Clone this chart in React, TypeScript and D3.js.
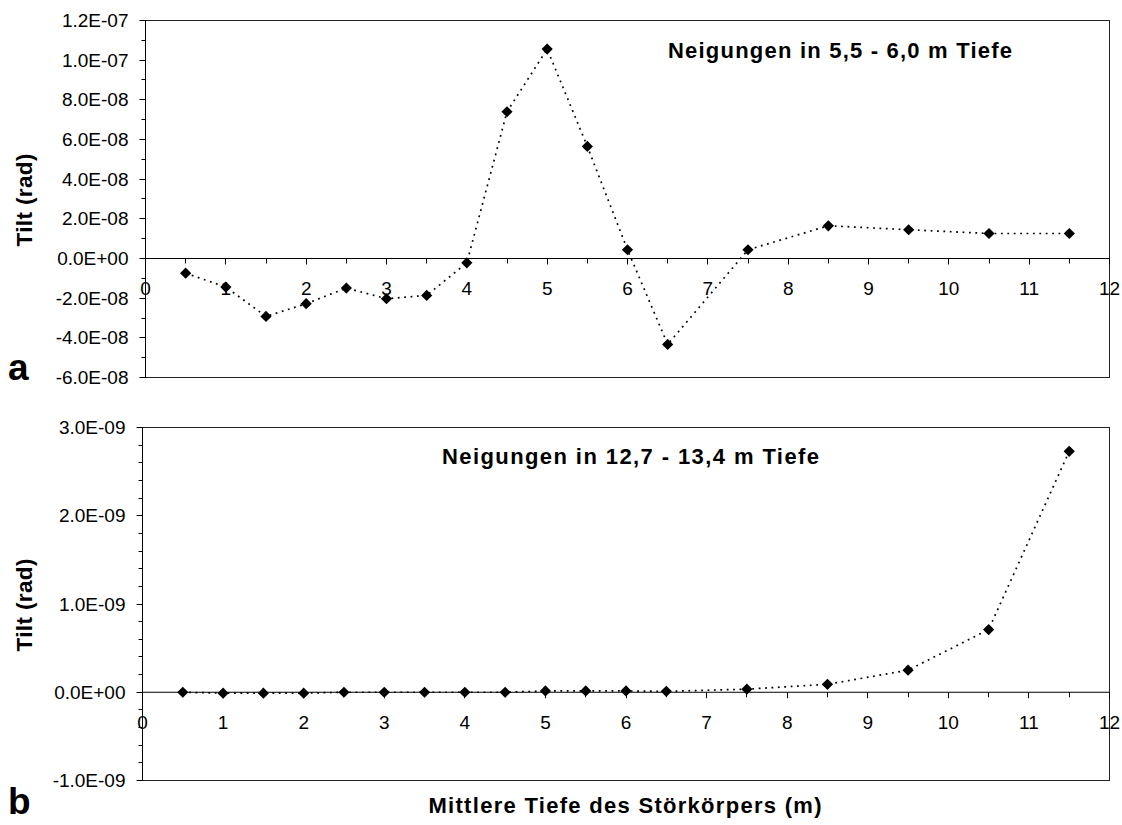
import React from "react";
import * as d3 from "d3";

// Depth of the disturbing body (m)
const depthsA = [0.5, 1, 1.5, 2, 2.5, 3, 3.5, 4, 4.5, 5, 5.5, 6, 6.5, 7.5, 8.5, 9.5, 10.5, 11.5];
const depthsB = [0.5, 1, 1.5, 2, 2.5, 3, 3.5, 4, 4.5, 5, 5.5, 6, 6.5, 7.5, 8.5, 9.5, 10.5, 11.5];

// Tilt at 5.5 - 6.0 m depth (rad)
const tiltA = [
  -7.4e-9, -1.44e-8, -2.92e-8, -2.28e-8, -1.49e-8, -2.03e-8, -1.86e-8, -2.2e-9,
  7.4e-8, 1.056e-7, 5.65e-8, 4.4e-9, -4.33e-8, 4.4e-9, 1.65e-8, 1.45e-8, 1.26e-8, 1.26e-8,
];

// Tilt at 12.7 - 13.4 m depth (rad)
const tiltB = [
  0, -1e-11, -1e-11, -1e-11, 0, 0, 0, 0, 0, 1.5e-11, 1.5e-11, 1.5e-11, 1e-11,
  3.5e-11, 9e-11, 2.5e-10, 7.1e-10, 2.73e-9,
];

const xTickValues = d3.range(0, 12.01, 0.5);
const xLabelValues = d3.range(0, 13, 1);

const titleA = "Neigungen in 5,5 - 6,0 m Tiefe";
const titleB = "Neigungen in 12,7 - 13,4 m Tiefe";
const xTitle = "Mittlere Tiefe des Störkörpers (m)";
const yTitle = "Tilt (rad)";

const FONT = "'Liberation Sans', Arial, Helvetica, sans-serif";

// Excel-style "0.0E+00" number format
function sci(v: number): string {
  if (Math.abs(v) < 1e-20) return "0.0E+00";
  let e = Math.floor(Math.log10(Math.abs(v)));
  let m = +(v / Math.pow(10, e)).toFixed(1);
  if (Math.abs(m) >= 10) {
    e += 1;
    m = +(v / Math.pow(10, e)).toFixed(1);
  }
  const es = (e < 0 ? "-" : "+") + String(Math.abs(e)).padStart(2, "0");
  return m.toFixed(1) + "E" + es;
}

function diamond(r: number) {
  return `M0,${-r}L${r},0L0,${r}L${-r},0Z`;
}

type PanelProps = {
  xs: number[];
  ys: number[];
  left: number;
  right: number;
  top: number;
  bottom: number;
  yDomain: [number, number];
  majorStep: number;
  minorStep: number;
  title: string;
  titleX: number;
  titleY: number;
  titleLen: number;
  letter: string;
  letterY: number;
};

function Panel(p: PanelProps) {
  const x = d3.scaleLinear().domain([0, 12]).range([p.left, p.right]);
  const y = d3.scaleLinear().domain(p.yDomain).range([p.bottom, p.top]);
  const y0 = y(0);

  const nMinor = Math.round((p.yDomain[1] - p.yDomain[0]) / p.minorStep);
  const minorTicks = d3.range(0, nMinor + 1).map((i) => p.yDomain[0] + i * p.minorStep);
  const ratio = Math.round(p.majorStep / p.minorStep);
  const majorTicks = minorTicks.filter((_, i) => i % ratio === 0);

  const pts = p.xs.map((d, i) => [d, p.ys[i]] as [number, number]);
  const line = d3
    .line<[number, number]>()
    .x((d) => x(d[0]))
    .y((d) => y(d[1]));

  return (
    <g>
      {/* plot frame */}
      <rect
        x={p.left}
        y={p.top}
        width={p.right - p.left}
        height={p.bottom - p.top}
        fill="#fff"
        stroke="#222"
        strokeWidth={1}
      />
      {/* y axis */}
      <line x1={p.left} x2={p.left} y1={p.top} y2={p.bottom} stroke="#000" strokeWidth={1} />
      {minorTicks.map((t, i) => {
        const major = i % ratio === 0;
        const yy = Math.round(y(t) - 0.5) + 0.5;
        return (
          <line
            key={"yt" + i}
            x1={p.left - (major ? 6 : 4)}
            x2={p.left}
            y1={yy}
            y2={yy}
            stroke="#000"
            strokeWidth={1}
          />
        );
      })}
      {majorTicks.map((t, i) => (
        <text
          key={"yl" + i}
          x={p.left - 17}
          y={y(t)}
          dy="0.35em"
          textAnchor="end"
          fontFamily={FONT}
          fontSize={19}
          fill="#000"
        >
          {sci(t)}
        </text>
      ))}
      {/* x axis through zero */}
      <line x1={p.left} x2={p.right} y1={y0} y2={y0} stroke="#000" strokeWidth={1} />
      {xTickValues.map((t, i) => {
        const xx = Math.round(x(t) - 0.5) + 0.5;
        return (
          <line
            key={"xt" + i}
            x1={xx}
            x2={xx}
            y1={y0}
            y2={y0 + (Number.isInteger(t) ? 6 : 5)}
            stroke="#000"
            strokeWidth={1}
          />
        );
      })}
      {xLabelValues.map((t) => (
        <text
          key={"xl" + t}
          x={x(t)}
          y={y0 + 36.5}
          textAnchor="middle"
          fontFamily={FONT}
          fontSize={19}
          fill="#000"
        >
          {t}
        </text>
      ))}
      {/* series */}
      <path
        d={line(pts) || ""}
        fill="none"
        stroke="#000"
        strokeWidth={1.7}
        strokeDasharray="1.8 4.6"
      />
      {pts.map((d, i) => (
        <path key={"m" + i} d={diamond(5.6)} transform={`translate(${x(d[0])},${y(d[1])})`} fill="#000" />
      ))}
      {/* panel title */}
      <text
        x={p.titleX}
        y={p.titleY}
        fontFamily={FONT}
        fontSize={22}
        fontWeight="bold"
        textLength={p.titleLen}
        lengthAdjust="spacing"
        fill="#000"
      >
        {p.title}
      </text>
      {/* y axis title */}
      <text
        transform={`translate(31.5,${(p.top + p.bottom) / 2 + 1}) rotate(-90)`}
        textAnchor="middle"
        fontFamily={FONT}
        fontSize={22.5}
        fontWeight="bold"
        textLength={93}
        lengthAdjust="spacing"
        fill="#000"
      >
        {yTitle}
      </text>
      {/* panel letter */}
      <text x={8} y={p.letterY} fontFamily={FONT} fontSize={37} fontWeight="bold" fill="#000">
        {p.letter}
      </text>
    </g>
  );
}

export default function App() {
  return (
    <svg
      width={1122}
      height={825}
      viewBox="0 0 1122 825"
      style={{ position: "absolute", left: 0, top: 0, background: "#fff" }}
    >
      <rect x={0} y={0} width={1122} height={825} fill="#fff" />
      <Panel
        xs={depthsA}
        ys={tiltA}
        left={145.5}
        right={1109.5}
        top={20.5}
        bottom={377.5}
        yDomain={[-6e-8, 1.2e-7]}
        majorStep={2e-8}
        minorStep={1e-8}
        title={titleA}
        titleX={668}
        titleY={57.5}
        titleLen={344}
        letter="a"
        letterY={380}
      />
      <Panel
        xs={depthsB}
        ys={tiltB}
        left={142.5}
        right={1109.5}
        top={427.5}
        bottom={780.5}
        yDomain={[-1e-9, 3e-9]}
        majorStep={1e-9}
        minorStep={2e-10}
        title={titleB}
        titleX={442}
        titleY={463.5}
        titleLen={377}
        letter="b"
        letterY={814}
      />
      <text
        x={625}
        y={813}
        textAnchor="middle"
        fontFamily={FONT}
        fontSize={22}
        fontWeight="bold"
        textLength={393}
        lengthAdjust="spacing"
        fill="#000"
      >
        {xTitle}
      </text>
    </svg>
  );
}
